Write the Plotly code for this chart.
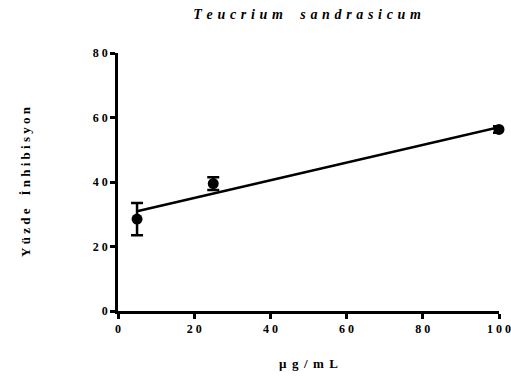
import numpy as np
import plotly.graph_objects as go

conc = [5, 25, 100]
inhib = [28.5, 39.5, 56.3]
err = [5.0, 2.0, 1.0]
xticks = [0, 20, 40, 60, 80, 100]
yticks = [0, 20, 40, 60, 80]


def spaced(s, sp):
    return sp.join(list(s))

slope, icpt = np.polyfit(conc, inhib, 1)
xl = np.array([min(conc), max(conc)])
yl = slope * xl + icpt

fig = go.Figure()
fig.add_trace(go.Scatter(x=xl, y=yl, mode="lines", line=dict(color="black", width=2.5),
                         showlegend=False, cliponaxis=False))
fig.add_trace(go.Scatter(x=conc, y=inhib, mode="markers",
                         marker=dict(color="black", size=11, symbol="circle"),
                         error_y=dict(type="data", array=err, color="black", thickness=2.5, width=6),
                         showlegend=False, cliponaxis=False))

font = "Times New Roman"
tick_sp = "\u2005"
fig.update_layout(
    width=511, height=376,
    font=dict(family=font),
    margin=dict(l=118, r=12, t=53, b=65, autoexpand=False),
    plot_bgcolor="white", paper_bgcolor="white",
    title=dict(text="<b><i>" + spaced("Teucrium", "\u2004") + "\u2003\u2005" + spaced("sandrasicum", "\u2004") + "</i></b>",
               x=0.601, xanchor="center", y=0.963, yanchor="middle",
               font=dict(family=font, size=14, color="black")),
    xaxis=dict(range=[0, 100], tickvals=xticks, ticktext=["<b>" + spaced(str(v), tick_sp) + "</b>" for v in xticks],
               showgrid=False, zeroline=False, showline=True, linecolor="black", linewidth=2.5,
               ticks="outside", ticklen=5, tickwidth=2.5, tickcolor="black", automargin=False,
               ticklabeloverflow="allow",
               tickfont=dict(family=font, size=12, color="black"),
               title=dict(text="<b>" + spaced("µg/mL", "\u2004\u200a") + "</b>", font=dict(family=font, size=13, color="black"), standoff=24)),
    yaxis=dict(range=[0, 80], tickvals=yticks, ticktext=["<b>" + spaced(str(v), tick_sp) + "</b>" for v in yticks],
               showgrid=False, zeroline=False, showline=True, linecolor="black", linewidth=2.5,
               ticks="outside", ticklen=5, tickwidth=2.5, tickcolor="black", automargin=False,
               ticklabeloverflow="allow",
               tickfont=dict(family=font, size=12, color="black"),
               title=dict(text="<b>" + spaced("Yüzde", "\u2005") + "\u2003" + spaced("İnhibisyon", "\u2005") + "</b>", font=dict(family=font, size=13, color="black"), standoff=60)),
)
fig.write_html("out.html")
